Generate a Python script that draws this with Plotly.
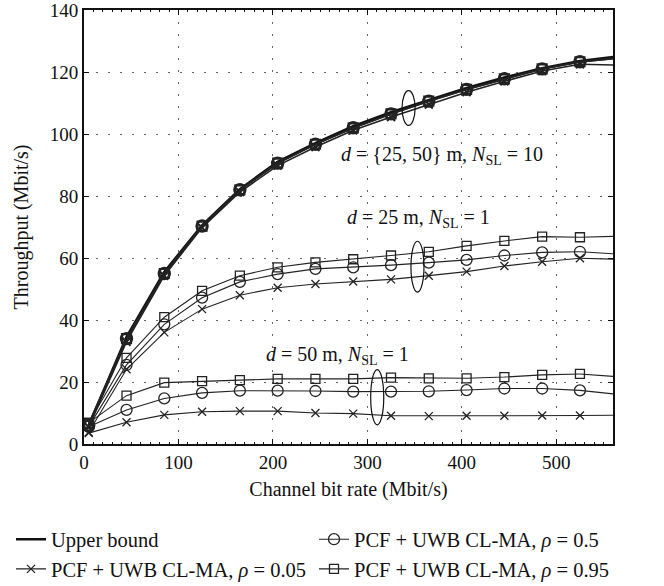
import plotly.graph_objects as go

x = [5, 45, 85, 125, 165, 205, 245, 285, 325, 365, 405, 445, 485, 525, 565]

# Upper bound (N_SL = 10 group)
upper = [6, 34.5, 55.5, 70.5, 82.2, 91, 97, 102.5, 107, 111, 114.8, 118.2, 121.2, 123.5, 125]

# d = {25, 50} m, N_SL = 10
top_r005 = [5.5, 33, 54.3, 69.8, 81.3, 89.8, 95.8, 101.2, 105.5, 109.5, 113.5, 117, 120.3, 122.5, 122.2]
top_r05 = [6, 34, 55, 70.3, 82, 90.6, 96.7, 102, 106.5, 110.6, 114.4, 117.8, 121, 123.3, 124.5]
top_r095 = [6.5, 34, 55, 70.3, 82, 90.6, 96.7, 102, 106.5, 110.6, 114.4, 117.8, 121, 123.3, 124.5]

# d = 25 m, N_SL = 1
m25_r005 = [3.8, 24.1, 36, 43.5, 48, 50.4, 51.6, 52.4, 53.1, 54.3, 55.6, 57.4, 58.8, 59.9, 59.6]
m25_r05 = [5.6, 25.5, 38.6, 47.2, 52.3, 54.8, 56.5, 57, 57.7, 58.5, 59.4, 60.8, 61.8, 62, 61.3]
m25_r095 = [6.8, 27.8, 40.9, 49.4, 54.3, 57, 58.6, 59.6, 60.8, 62, 63.9, 65.5, 66.9, 66.7, 67]

# d = 50 m, N_SL = 1
m50_r005 = [3.5, 7, 9.4, 10.4, 10.6, 10.6, 10, 9.8, 9.1, 9, 9.1, 9.1, 9.2, 9.2, 9.3]
m50_r05 = [5.6, 11, 14.7, 16.5, 17.2, 17.2, 17.1, 16.9, 16.9, 17, 17.4, 17.9, 17.9, 17.3, 16]
m50_r095 = [6.8, 15.6, 19.8, 20.3, 20.6, 21, 21, 21, 21.4, 21.2, 21.2, 21.6, 22.3, 22.6, 21.7]

legend_names = [
    "Upper bound",
    "PCF + UWB CL-MA, <i>ρ</i> = 0.5",
    "PCF + UWB CL-MA, <i>ρ</i> = 0.05",
    "PCF + UWB CL-MA, <i>ρ</i> = 0.95",
]

FONT = "Liberation Serif"
LINE = "#222222"

fig = go.Figure()

fig.add_trace(go.Scatter(x=x, y=upper, mode="lines", name=legend_names[0],
                         line=dict(color="#111111", width=2.6), legendgroup="ub"))


def add_series(yv, symbol, name, group, show, size, lw=1.1, mw=1.3):
    # tail segment beyond last marker (no markers)
    fig.add_trace(go.Scatter(
        x=x[-2:], y=yv[-2:], mode="lines", showlegend=False, legendgroup=group,
        line=dict(color=LINE, width=lw), hoverinfo="skip"))
    fig.add_trace(go.Scatter(
        x=x[:-1], y=yv[:-1], mode="lines+markers", name=name, legendgroup=group,
        showlegend=show,
        line=dict(color=LINE, width=lw),
        marker=dict(symbol=symbol, size=size, color=LINE,
                    line=dict(color=LINE, width=mw)),
    ))


# legend order (row-wise): Upper bound, rho=0.5 / rho=0.05, rho=0.95
add_series(m25_r05, "circle-open", legend_names[1], "r05", True, 11)
add_series(m25_r005, "x-thin-open", legend_names[2], "r005", True, 8)
add_series(m25_r095, "square-open", legend_names[3], "r095", True, 9)
add_series(m50_r05, "circle-open", legend_names[1], "r05", False, 11)
add_series(m50_r005, "x-thin-open", legend_names[2], "r005", False, 8)
add_series(m50_r095, "square-open", legend_names[3], "r095", False, 9)
add_series(top_r005, "x-thin-open", legend_names[2], "r005", False, 8, 1.6, 2)
add_series(top_r05, "circle-open", legend_names[1], "r05", False, 11, 1.8, 2.4)
add_series(top_r095, "square-open", legend_names[3], "r095", False, 9, 1.8, 2.2)

# ellipses (data coordinates)
ellipses = [(343.6, 108.4, 6.9, 5.6), (353, 57.2, 6.9, 8.2), (310.4, 15.1, 6.9, 8.9)]
for cx, cy, rx, ry in ellipses:
    fig.add_shape(type="circle", xref="x", yref="y",
                  x0=cx - rx, x1=cx + rx, y0=cy - ry, y1=cy + ry,
                  line=dict(color="#111111", width=1.2))

annots = [
    (379, 93, "<i>d</i> = {25, 50} m, <i>N</i><sub>SL</sub> = 10"),
    (354, 72.9, "<i>d</i> = 25 m, <i>N</i><sub>SL</sub> = 1"),
    (268, 28.4, "<i>d</i> = 50 m, <i>N</i><sub>SL</sub> = 1"),
]
for ax_, ay_, t in annots:
    fig.add_annotation(x=ax_, y=ay_, text=t, showarrow=False,
                       font=dict(family=FONT, size=20, color="#111111"))

axis_common = dict(
    showline=True, linecolor="#111111", linewidth=2, mirror="ticks",
    ticks="inside", ticklen=5, tickcolor="#111111", tickwidth=1,
    showgrid=True, gridcolor="#666666", griddash="2px,10px", gridwidth=1,
    zeroline=False, automargin=False, ticklabeloverflow="allow",
    tickfont=dict(family=FONT, size=19, color="#111111"),
)

fig.update_xaxes(range=[0, 560], dtick=100, tick0=0,
                 title=dict(text="Channel bit rate (Mbit/s)",
                            font=dict(family=FONT, size=20, color="#111111"),
                            standoff=10),
                 minor=dict(ticks="inside", ticklen=2, dtick=10, tickcolor="#111111",
                            showgrid=False),
                 **axis_common)
fig.update_yaxes(range=[0, 140], dtick=20, tick0=0,
                 title=dict(text="Throughput (Mbit/s)",
                            font=dict(family=FONT, size=20, color="#111111"),
                            standoff=16),
                 **axis_common)

fig.update_layout(
    width=664, height=586,
    margin=dict(l=84, r=51, t=10, b=142, autoexpand=False),
    paper_bgcolor="white", plot_bgcolor="white",
    font=dict(family=FONT, size=20, color="#111111"),
    showlegend=True,
    legend=dict(orientation="h", xref="paper", yref="paper",
                x=-0.138, y=-0.335, xanchor="left", yanchor="bottom",
                entrywidth=258, entrywidthmode="pixels", itemwidth=30,
                tracegroupgap=0, traceorder="normal",
                font=dict(family=FONT, size=20.5, color="#111111"),
                bgcolor="rgba(0,0,0,0)"),
)

fig.write_html("out.html", config={"displayModeBar": False},
               post_script="document.body.style.margin='0';")
